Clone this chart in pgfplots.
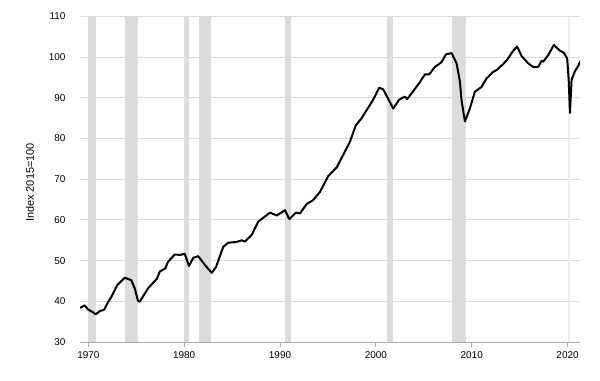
\documentclass[border=0pt]{standalone}
\usepackage{pgfplots}
\pgfplotsset{compat=1.18}
\usepackage{fontspec}
\setmainfont{Liberation Sans}
\definecolor{band}{HTML}{DCDCDC}
\definecolor{gridc}{HTML}{DADADA}
\definecolor{axisc}{HTML}{AAAAAA}
\begin{document}
\begin{tikzpicture}[x=1bp,y=1bp]
\path[use as bounding box] (0,0) rectangle (600,380);
\begin{axis}[
  at={(80bp,38bp)}, anchor=south west,
  scale only axis, width=500bp, height=325.5bp,
  xmin=1969.13, xmax=2021.3, ymin=30, ymax=110,
  axis x line*=bottom, axis y line*=left,
  y axis line style={draw=none},
  x axis line style={axisc, line width=1bp, -},
  ytick={30,40,...,110},
  xtick={1970,1980,...,2020},
  ymajorgrids, grid style={gridc, line width=1bp},
  ytick style={draw=none},
  xtick style={axisc, line width=1bp},
  xtick align=outside, major tick length=5bp,
  /pgf/number format/1000 sep={},
  /pgf/number format/assume math mode=true,
  tick label style={font=\fontsize{10}{12}\selectfont, black},
  yticklabel style={xshift=-11bp},
  xticklabel style={yshift=-1bp},
  ylabel={Index 2015=100},
  ylabel style={font=\fontsize{11}{13}\selectfont, at={(axis description cs:-0.1,0.49)}, anchor=center},
  clip=true,
]
\addplot[fill=band, draw=none, forget plot] coordinates {(1969.92,110) (1970.83,110)} \closedcycle;
\addplot[fill=band, draw=none, forget plot] coordinates {(1973.83,110) (1975.17,110)} \closedcycle;
\addplot[fill=band, draw=none, forget plot] coordinates {(1980.0,110) (1980.5,110)} \closedcycle;
\addplot[fill=band, draw=none, forget plot] coordinates {(1981.5,110) (1982.83,110)} \closedcycle;
\addplot[fill=band, draw=none, forget plot] coordinates {(1990.5,110) (1991.17,110)} \closedcycle;
\addplot[fill=band, draw=none, forget plot] coordinates {(2001.17,110) (2001.83,110)} \closedcycle;
\addplot[fill=band, draw=none, forget plot] coordinates {(2007.92,110) (2009.42,110)} \closedcycle;
\addplot[fill=band!50, draw=none, forget plot] coordinates {(2020.08,110) (2020.25,110)} \closedcycle;
\addplot[black, line width=2bp, line join=round] table {
x y
1969.13 38.4
1969.21 38.5
1969.62 39.0
1969.97 38.0
1970.49 37.3
1970.77 36.8
1971.19 37.6
1971.64 37.9
1972.05 39.8
1972.40 41.1
1973.02 44.0
1973.80 45.8
1974.48 45.2
1974.84 43.2
1975.18 40.1
1975.36 39.9
1976.23 43.2
1977.17 45.6
1977.45 47.3
1978.03 48.1
1978.31 49.7
1979.01 51.5
1979.6 51.4
1980.05 51.7
1980.50 48.7
1980.95 50.7
1981.47 51.1
1982.17 48.9
1982.87 47.0
1983.32 48.4
1984.08 53.4
1984.60 54.4
1985.48 54.6
1986.00 55.0
1986.34 54.7
1987.04 56.3
1987.73 59.6
1988.95 61.8
1989.65 61.1
1990.52 62.4
1990.96 60.2
1991.66 61.8
1992.08 61.6
1992.78 63.9
1993.47 64.9
1994.17 66.9
1995.03 70.8
1995.91 72.9
1996.77 76.8
1997.29 79.2
1997.92 83.3
1998.51 85.0
1999.04 87.0
1999.66 89.3
2000.35 92.5
2000.77 92.1
2001.81 87.4
2002.44 89.6
2003.03 90.3
2003.27 89.7
2004.52 93.6
2005.12 95.8
2005.57 95.8
2006.16 97.6
2006.86 98.8
2007.31 100.7
2007.90 101.0
2008.42 98.5
2008.77 94.0
2008.94 89.4
2009.29 84.2
2009.81 87.4
2010.33 91.5
2011.03 92.7
2011.55 94.8
2012.24 96.4
2012.59 96.8
2013.28 98.3
2013.80 99.7
2014.33 101.6
2014.74 102.6
2015.20 100.3
2015.89 98.5
2016.41 97.6
2016.93 97.6
2017.29 99.1
2017.46 98.9
2017.98 100.5
2018.57 103.0
2019.20 101.6
2019.61 101.1
2019.96 99.7
2020.12 94.4
2020.25 86.3
2020.42 94.4
2020.76 96.5
2021.10 97.8
2021.36 99.1
};
\end{axis}
\end{tikzpicture}
\end{document}
